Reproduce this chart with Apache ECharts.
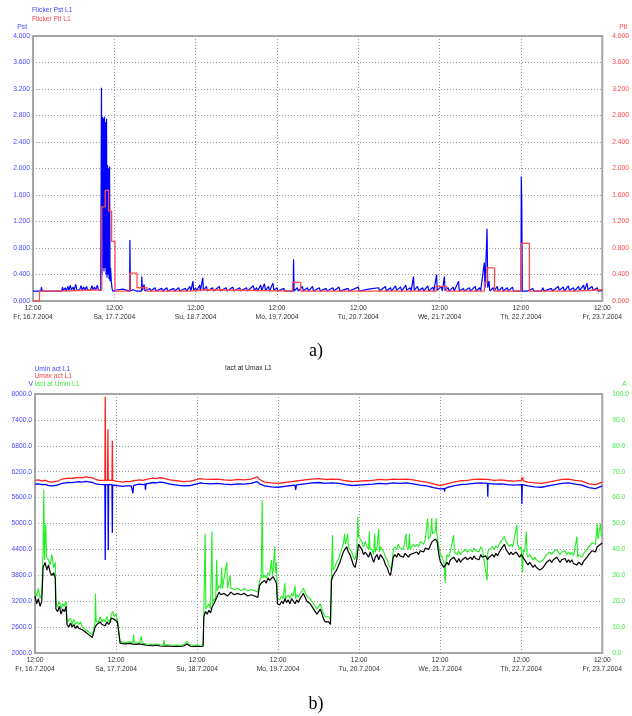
<!DOCTYPE html>
<html>
<head>
<meta charset="utf-8">
<script src="https://cdn.jsdelivr.net/npm/echarts@6/dist/echarts.min.js"></script>
<style>
html,body{margin:0;padding:0;background:#fff;}
#chart{width:632px;height:716px;}
</style>
</head>
<body>
<div id="chart"></div>
<script>
// ---- Tick labels (x: hours from Fri 16.7.2004 12:00, one tick per day) ----
const timeLabel = '12:00';
const dayLabels = ['Fr, 16.7.2004','Sa, 17.7.2004','Su, 18.7.2004','Mo, 19.7.2004','Tu, 20.7.2004','We, 21.7.2004','Th, 22.7.2004','Fr, 23.7.2004'];

// ---- Chart a): flicker, [hour, value] ----
const pstL1 = [[0,0.15],[2.3,0.15],[2.5,0.21],[2.7,0.15],[8.5,0.15],[8.7,0.21],[9,0.16],[9.5,0.2],[9.8,0.15],[10.3,0.22],[10.6,0.16],[11,0.24],[11.3,0.17],[11.8,0.21],[12.1,0.16],[12.6,0.25],[12.9,0.17],[13.4,0.2],[13.7,0.16],[14.2,0.23],[14.5,0.17],[15,0.21],[15.3,0.16],[15.8,0.22],[16.1,0.17],[16.6,0.2],[16.9,0.16],[17.4,0.23],[17.7,0.17],[18.2,0.21],[18.5,0.16],[19,0.24],[19.3,0.17],[19.8,0.2],[20,0.16],
[20.2,3.22],[20.35,0.4],[20.5,2.78],[20.65,0.5],[20.8,2.76],[20.95,0.45],[21.1,2.78],[21.25,0.5],[21.4,2.7],[21.55,0.4],[21.7,2.75],[21.85,0.35],[22.0,2.05],[22.15,0.4],[22.3,2.0],[22.45,0.33],[22.6,2.03],[22.75,0.3],[22.9,0.5],[23.1,0.3],[23.3,0.2],[23.5,0.15],
[24,0.15],[25,0.17],[25.3,0.15],[26.5,0.18],[27,0.15],[28.5,0.15],[28.6,0.92],[28.75,0.15],[29.5,0.17],[30.5,0.15],[32,0.15],[32.1,0.37],[32.3,0.16],[32.8,0.25],[33,0.15],[34.5,0.19],[34.8,0.15],[36,0.2],[36.3,0.15],[38,0.19],[38.3,0.15],[39.5,0.2],[39.8,0.15],[41.5,0.19],[41.8,0.15],[43,0.2],[43.3,0.15],[45,0.19],[45.3,0.15],[46.3,0.22],[46.6,0.15],[47.2,0.3],[47.4,0.16],[48,0.2],[48.3,0.15],[49.2,0.24],[49.4,0.15],[50.1,0.35],[50.3,0.16],[51.2,0.22],[51.5,0.15],[53,0.2],[53.3,0.15],[55,0.22],[55.3,0.15],[57,0.2],[57.3,0.15],[59,0.21],[59.3,0.15],[61,0.2],[61.3,0.15],[63,0.2],[63.3,0.15],[65,0.23],[65.3,0.16],[66,0.2],[66.3,0.15],[67.2,0.24],[67.5,0.16],[68.3,0.26],[68.6,0.16],[69.5,0.22],[69.8,0.15],[70.8,0.27],[71.1,0.16],[72,0.2],[72.3,0.15],[74,0.19],[74.3,0.15],[76.8,0.15],[76.9,0.63],[77.05,0.15],[78,0.2],[78.3,0.15],[79.5,0.22],[79.8,0.15],[81,0.2],[81.3,0.15],[82.5,0.22],[82.8,0.15],[84.5,0.2],[84.8,0.15],[86.5,0.19],[86.8,0.15],[88.5,0.2],[88.8,0.15],[90.3,0.21],[90.6,0.15],[93,0.19],[93.3,0.15],[96,0.21],[96.3,0.15],[99,0.18],[99.3,0.15],[102,0.2],[102.3,0.15],[104,0.22],[104.3,0.15],[105.5,0.2],[105.8,0.15],[107,0.23],[107.3,0.16],[108.5,0.21],[108.8,0.15],[110,0.24],[110.3,0.16],[111.3,0.2],[111.6,0.15],[112.3,0.37],[112.5,0.16],[113.5,0.22],[113.8,0.15],[115,0.2],[115.3,0.15],[116.5,0.23],[116.8,0.15],[118,0.21],[118.3,0.15],[119.1,0.4],[119.3,0.16],[120.5,0.22],[120.8,0.15],[121.4,0.37],[121.6,0.16],[122.5,0.2],[122.8,0.15],[124,0.21],[124.3,0.15],[125.6,0.3],[125.8,0.15],[127,0.19],[127.3,0.15],[128.8,0.2],[129.1,0.15],[130.5,0.22],[130.8,0.15],[131.8,0.2],[132.1,0.15],[133.2,0.58],[133.4,0.2],[133.8,0.2],[134,1.09],[134.2,0.2],[134.6,0.3],[134.8,0.15],[135.8,0.2],[136.1,0.15],[137,0.22],[137.3,0.15],[138.5,0.21],[138.8,0.15],[140,0.2],[140.3,0.15],[141.5,0.21],[141.8,0.15],[144,0.15],[144.1,1.88],[144.25,1.5],[144.4,0.15],[146,0.15],[147.5,0.19],[147.8,0.15],[150,0.15],[150.5,0.2],[150.8,0.15],[153,0.19],[153.3,0.15],[155,0.22],[155.3,0.16],[156.5,0.21],[156.8,0.15],[158,0.23],[158.3,0.16],[159.5,0.2],[159.8,0.15],[161,0.22],[161.3,0.16],[162.5,0.24],[162.8,0.16],[163.5,0.27],[163.8,0.17],[165,0.22],[165.3,0.16],[166.5,0.2],[166.8,0.15],[168,0.16]];

const pltL1 = [[0,0],[1.9,0.15],[8,0.17],[20.3,1.42],[21.3,1.67],[22.3,1.36],[23.2,0.9],[24.2,0.15],[28.6,0.42],[30.7,0.2],[33.6,0.15],[46,0.17],[51,0.15],[76.6,0.28],[79,0.15],[119,0.22],[122,0.15],[133.2,0.28],[134,0.5],[136.2,0.15],[144.1,0.87],[146.5,0.15],[160,0.17],[168,0.17]];

// ---- Chart b): voltages [hour, V] ----
const uminL1 = [[0,5910],[1,5920],[2,5900],[3,5905],[4,5880],[5,5870],[6,5880],[7,5900],[8,5930],[9,5940],[10,5950],[11,5945],[12,5960],[13,5970],[14,5960],[15,5975],[16,5965],[17,5950],[18,5920],[19,5905],[20,5900],[20.7,5900],[20.8,4155],[20.9,5900],[21.6,5900],[21.7,4387],[21.8,5900],[22.8,5900],[22.9,4787],[23,5890],[24,5880],[25,5870],[26,5860],[27,5870],[28.5,5870],[29,5700],[29.2,5880],[30,5900],[31,5910],[32,5900],[32.6,5910],[32.7,5780],[32.9,5920],[35,5950],[36,5940],[37,5960],[38,5950],[39,5930],[40,5910],[42,5890],[44,5870],[46,5880],[47,5900],[48,5920],[49,5940],[50,5930],[52,5920],[54,5930],[56,5910],[58,5900],[60,5920],[62,5910],[64,5930],[65.8,5970],[66.5,5920],[68,5870],[70,5850],[72,5840],[74,5860],[76,5880],[77,5890],[77.2,5776],[77.4,5890],[78,5900],[80,5920],[82,5940],[84,5950],[86,5930],[88,5940],[90,5930],[92,5900],[94,5880],[96,5890],[98,5900],[100,5910],[102,5930],[104,5920],[106,5940],[108,5930],[110,5940],[112,5920],[114,5890],[116,5870],[118,5830],[118.8,5820],[118.9,5780],[119,5820],[120,5800],[121.2,5810],[121.3,5737],[121.4,5810],[122,5830],[124,5870],[126,5900],[128,5910],[130,5930],[132,5940],[134,5930],[134.1,5621],[134.2,5930],[136,5910],[138,5920],[140,5900],[142,5890],[144.1,5900],[144.2,5452],[144.3,5900],[146,5870],[148,5850],[150,5840],[152,5870],[154,5900],[156,5930],[158,5940],[160,5910],[162,5890],[164,5830],[166,5810],[168,5870]];

const umaxL1 = [[0,6000],[1,6010],[2,5990],[3,6000],[4,5970],[5,5960],[6,5975],[7,5990],[8,6030],[9,6040],[10,6050],[11,6045],[12,6060],[13,6070],[14,6060],[15,6080],[16,6070],[17,6060],[18,6020],[19,6000],[20,6000],[20.7,6000],[20.8,7937],[20.9,6000],[21.5,6000],[21.6,7182],[21.7,6000],[22.8,6000],[22.9,6919],[23,6000],[24,5980],[25,5970],[26,5960],[27,5975],[28,5970],[29,5990],[30,6000],[31,6010],[32,6000],[33,6020],[34,6040],[35,6050],[36,6040],[37,6060],[38,6050],[39,6030],[40,6010],[42,5990],[44,5970],[46,5980],[47,6000],[48,6020],[49,6040],[50,6030],[52,6020],[54,6030],[56,6010],[58,6000],[60,6020],[62,6010],[64,6030],[65.8,6080],[66.5,6020],[68,5960],[70,5940],[72,5930],[74,5950],[76,5970],[78,5990],[80,6010],[82,6030],[84,6040],[86,6020],[88,6030],[90,6020],[92,5990],[94,5970],[96,5980],[98,5990],[100,6000],[102,6020],[104,6010],[106,6030],[108,6020],[110,6030],[112,6010],[114,5980],[116,5960],[118,5920],[120,5880],[121,5900],[122,5920],[124,5960],[126,5990],[128,6000],[130,6020],[132,6030],[134,6020],[136,6000],[138,6010],[140,5990],[142,5980],[144,6000],[144.4,6080],[144.6,5990],[146,5960],[148,5940],[150,5930],[152,5960],[154,5990],[156,6020],[158,6030],[160,6000],[162,5980],[164,5920],[166,5900],[168,5960]];

// ---- Chart b): currents [hour, A] ----
const iactUminL1 = [[0,24],[0.5,22],[1,25],[1.5,21],[2,23],[2.4,40],[2.6,63],[2.8,36],[3.2,50],[3.4,37],[4,36],[4.5,34],[5,38],[5.5,33],[6,35],[6.2,19],[6.7,18],[7.2,20],[7.7,17],[8.2,19],[8.7,18],[9.2,20],[9.5,12],[10,12],[10.5,13.5],[11,11],[11.5,13],[12,11],[12.5,12],[13,11],[13.5,12],[14,10],[14.5,10],[15,9],[15.5,9],[16,8],[16.5,7.5],[17,7],[17.5,6.5],[17.8,12],[17.9,23],[18.1,12],[18.8,12],[19.3,14],[19.8,12],[20.3,13],[20.8,12],[21.3,14],[21.8,12],[22.3,13],[22.6,15],[23,16],[23.5,14],[24,15],[24.4,13],[24.8,9],[25.2,4.5],[26,4.2],[27,4],[28,4.3],[29,4],[29.2,7],[29.4,4],[30,3.8],[31,4],[31.5,6.5],[31.7,3.8],[32,3.7],[33,3.5],[34,3.4],[35,3.3],[36,3.5],[37,3.2],[38,3.1],[38.2,5],[38.4,3.1],[39,3.2],[40,3.1],[41,3],[42,3.1],[43,3],[44,3.2],[45,4.5],[45.5,3.3],[46,3.1],[47,3],[48,3.1],[49,3],[49.8,3.1],[50,16],[50.4,46],[50.6,17],[51,17],[51.5,19],[52,17],[52.4,47],[52.6,19],[53,21],[53.5,20],[53.8,36],[54,24],[54.5,26],[55,25],[55.3,33],[55.5,25],[56,25],[56.8,35],[57,25],[57.8,30],[58,25],[59,24.5],[60,25],[61,24],[62,25],[63,24],[64,24.5],[65,24],[66,23.5],[66.5,28],[67,29],[67.3,59],[67.5,29],[68,30],[68.5,29],[69,31],[69.5,30],[70,36],[70.3,30],[70.5,32],[71,41],[71.2,31],[71.5,35],[71.8,21],[72.5,20.5],[73,22],[73.5,21],[74,27],[74.2,21],[74.5,21.5],[75,22.5],[75.5,21],[76,23],[76.5,22],[77,26],[77.2,21],[77.5,22.5],[78,21.5],[78.5,23],[79,24],[79.5,25],[80,23.5],[80.5,22],[81,22.5],[81.5,21],[82,20],[82.5,19.5],[83,18],[83.5,17],[84,18],[84.5,19],[85,17],[85.5,15],[86,14],[86.5,13.5],[87,14],[87.5,13],[87.8,30],[88.1,45.6],[88.3,32],[88.8,33],[89.3,35],[89.8,36],[90.3,38],[90.8,40],[91.3,42],[91.7,46],[91.9,42],[92.3,44],[92.6,46],[92.8,41],[93.3,41],[93.8,39],[94.3,37],[94.8,36],[95.3,40],[95.6,52.6],[95.8,45],[96.3,44],[96.8,43],[97.3,41],[97.8,43],[98.3,41],[98.8,40],[99,47],[99.2,40],[99.8,40],[100.3,38],[100.6,46],[100.8,39],[101.3,41],[101.8,48],[102,39],[102.3,41],[102.8,40],[103.3,39],[103.8,37],[104.3,36],[104.8,34],[105.3,33],[105.6,32],[106.1,40],[106.6,41],[107.1,40],[107.6,42],[108.1,40.5],[108.6,41],[109.1,40],[109.9,46],[110.1,41],[110.6,40],[110.9,46],[111.1,40],[111.6,41],[112.1,42],[112.6,41],[113.1,42],[113.6,41],[114.1,43],[114.6,43],[115.1,42],[115.6,44],[116.1,44],[116.3,52],[116.5,44],[117.1,45],[117.5,52],[117.7,46],[118.1,46],[118.6,47],[118.8,52],[119,46],[119.6,41],[120.1,38],[120.6,37],[121.1,35],[121.5,27],[121.7,35],[122,38],[122.5,37],[123,39],[123.5,38.5],[124,45.5],[124.2,39],[124.5,39],[125,38],[125.5,39.5],[126,38],[126.5,39],[127,38.5],[127.5,40],[128,39],[128.5,39.5],[129,40],[129.5,39],[130,40.5],[130.5,39.5],[131,40],[131.5,39],[132,41],[132.5,40],[133,39.5],[133.9,28],[134.1,39],[134.5,40],[135,39.5],[135.5,41],[136,40],[136.5,41.5],[137,40.5],[137.5,42],[138,43],[138.5,44],[139,45],[139.5,43],[140,42],[140.5,41],[141,42],[141.5,41],[142,40.5],[142.7,49.5],[142.9,42],[143.5,40],[144,41],[144.4,31],[144.6,40],[145,39],[145.5,47],[145.7,38],[146,37],[146.5,38],[147,37],[147.5,36],[148,37],[148.5,36],[149,35.5],[149.5,35],[150,35],[150.5,36],[151,37],[151.5,38],[152,37.5],[152.5,39],[153,38],[153.5,39],[154,38.5],[154.5,40],[155,39],[155.5,38],[156,39],[156.5,38.5],[157,39.5],[157.5,38],[158,39],[158.5,38],[159,39],[159.5,37.5],[160,38],[160.5,45],[160.7,37],[161,38],[161.5,37.5],[162,37],[162.5,38.5],[163,39],[163.5,40],[164,41],[164.5,41.5],[165,42.5],[165.5,43],[166,42],[166.5,50],[166.7,44],[167,43.5],[167.5,50],[167.7,45],[168,45.5]];

const iactUmaxL1 = [[0,22],[0.5,19],[1,21],[1.5,18],[2,20],[2.4,33],[3,35],[3.5,32],[4,34],[4.5,31],[5,30],[5.5,31],[6,29],[6.2,17],[6.7,16],[7.2,18],[7.7,15],[8.2,17],[8.7,16],[9.2,18],[9.5,11],[10,10],[10.5,11.5],[11,10],[11.5,11],[12,9.5],[12.5,10.5],[13,9.5],[13.5,10],[14,9],[14.5,8.5],[15,8],[15.5,7.5],[16,7],[16.5,6.5],[17,6],[17.5,5.8],[17.8,10],[18.3,11],[18.8,10.5],[19.3,12],[19.8,11],[20.3,11.5],[20.8,10.5],[21.3,12],[21.8,11],[22.3,12],[22.6,13.5],[23,14],[23.5,13],[24,13.5],[24.4,12],[24.8,8],[25.2,3.8],[26,3.6],[27,3.5],[28,3.7],[29,3.4],[30,3.3],[31,3.5],[32,3.2],[33,3],[34,2.9],[35,2.8],[36,3],[37,2.7],[38,2.6],[39,2.7],[40,2.6],[41,2.5],[42,2.6],[43,2.5],[44,2.7],[45,3.5],[45.5,2.8],[46,2.6],[47,2.5],[48,2.6],[49,2.5],[49.8,2.6],[50,14],[50.5,16],[51,15],[51.5,16.5],[52,15.5],[52.5,18],[53,19],[53.5,18.5],[54,22],[54.5,23.5],[55,22.5],[56,23],[57,22],[58,23.5],[59,22.5],[60,23],[61,22.5],[62,23],[63,22],[64,22.5],[65,22],[66,21.5],[66.5,26],[67,27],[67.5,26.5],[68,28],[68.5,27],[69,29],[69.5,28],[70,27.5],[70.5,29.5],[71,30],[71.5,27],[71.8,19],[72.5,18.5],[73,20],[73.5,19],[74,21],[74.5,19.5],[75,20.5],[75.5,19],[76,21],[76.5,20],[77,19],[77.5,20.5],[78,19.5],[78.5,21],[79,22],[79.5,23],[80,21.5],[80.5,20],[81,20.5],[81.5,19],[82,18],[82.5,17.5],[83,16],[83.5,15],[84,16],[84.5,17],[85,15],[85.5,13],[86,12],[86.5,11.5],[87,12],[87.5,11],[87.8,28],[88.3,30],[88.8,31],[89.3,32],[89.8,33.5],[90.3,35],[90.8,37],[91.3,39],[91.8,40],[92.3,41],[92.8,39],[93.3,38],[93.8,36],[94.3,34],[94.8,33],[95.3,36],[95.8,42],[96.3,41],[96.8,40],[97.3,38],[97.8,39],[98.3,38],[98.8,37],[99.3,39],[99.8,37],[100.3,35],[100.8,37],[101.3,38],[101.8,36],[102.3,38],[102.8,37],[103.3,36],[103.8,34],[104.3,33],[104.8,31],[105.3,30],[105.6,29.5],[106.1,37],[106.6,38],[107.1,37],[107.6,38.5],[108.1,37.5],[108.6,38],[109.1,37],[109.6,38.5],[110.1,38],[110.6,37],[111.1,38],[111.6,37.5],[112.1,38.5],[112.6,38],[113.1,39],[113.6,38],[114.1,39.5],[114.6,40],[115.1,39],[115.6,40.5],[116.1,41],[116.6,40],[117.1,41.5],[117.6,43],[118.1,42.5],[118.6,44],[119.1,43],[119.6,38],[120.1,35],[120.6,34],[121.1,33],[121.5,32.5],[122,35],[122.5,34],[123,36],[123.5,35.5],[124,37],[124.5,36],[125,35],[125.5,36.5],[126,35],[126.5,36],[127,35.5],[127.5,37],[128,36],[128.5,36.5],[129,37],[129.5,36],[130,37.5],[130.5,36.5],[131,37],[131.5,36],[132,38],[132.5,37],[133,36.5],[133.5,37.5],[134,36],[134.5,37],[135,36.5],[135.5,38],[136,37],[136.5,38.5],[137,37.5],[137.5,39],[138,40],[138.5,41],[139,42],[139.5,40],[140,39],[140.5,38],[141,39],[141.5,38],[142,37.5],[142.5,39],[143,38],[143.5,37],[144,38],[144.5,37],[145,36],[145.5,35],[146,34],[146.5,35],[147,34],[147.5,33],[148,34],[148.5,33],[149,32.5],[149.5,32],[150,32],[150.5,33],[151,34],[151.5,35],[152,34.5],[152.5,36],[153,35],[153.5,36],[154,35.5],[154.5,37],[155,36],[155.5,35],[156,36],[156.5,35.5],[157,36.5],[157.5,35],[158,36],[158.5,35],[159,36],[159.5,34.5],[160,35],[160.5,34],[161,35],[161.5,34.5],[162,34],[162.5,35.5],[163,36],[163.5,37],[164,38],[164.5,38.5],[165,39.5],[165.5,40],[166,39],[166.5,41],[167,40.5],[167.5,42],[168,42.5]];

// ---- styling constants ----
const FONT = "'Liberation Sans', Arial, sans-serif";
const BLUE = '#0000ff', RED = '#ff2020', RED_PLT = '#ff4a4a', GREEN = '#22ee22', BLACK = '#000000';
const BLUE_T = '#4646ff', RED_T = '#ff4646', GREEN_T = '#44ee44', GRAY_T = '#333333';
const FS = 6.7;

function xAxisFor(gridIndex) {
  return {
    type: 'value', gridIndex, min: 0, max: 168, interval: 24,
    axisLine: {show: false}, axisTick: {show: false},
    axisLabel: {
      fontFamily: FONT, fontSize: FS, color: GRAY_T, lineHeight: 9, margin: 3,
      showMinLabel: true, showMaxLabel: true, hideOverlap: false,
      formatter: v => timeLabel + '\n' + dayLabels[Math.round(v / 24)]
    },
    splitLine: {show: true, lineStyle: {color: '#9a9a9a', type: [1, 2], width: 1}}
  };
}
function yAxisFor(gridIndex, position, min, max, interval, digits, color, name, nameAlign, namePad, nameGap, margin) {
  return {
    type: 'value', gridIndex, position, min, max, interval,
    name, nameLocation: 'end', nameGap,
    nameTextStyle: {fontFamily: FONT, fontSize: FS, color, align: nameAlign, padding: namePad},
    axisLine: {show: false}, axisTick: {show: false},
    axisLabel: {fontFamily: FONT, fontSize: FS, color, margin, formatter: v => v.toFixed(digits)},
    splitLine: {show: position === 'left', lineStyle: {color: '#9a9a9a', type: [1, 2], width: 1}}
  };
}

const chart = echarts.init(document.getElementById('chart'), null, {renderer: 'canvas'});
chart.setOption({
  animation: false,
  backgroundColor: '#ffffff',
  grid: [
    {left: 33, right: 29, top: 36, height: 265, show: true, borderColor: '#a8a8a8', borderWidth: 2, backgroundColor: 'transparent'},
    {left: 35, right: 29, top: 394, height: 259, show: true, borderColor: '#a8a8a8', borderWidth: 2, backgroundColor: 'transparent'}
  ],
  legend: [
    {orient: 'vertical', left: 27, top: 7, itemWidth: 0, itemHeight: 0, itemGap: 1.3, padding: 0,
     selectedMode: false, icon: 'rect',
     textStyle: {fontFamily: FONT, fontSize: FS, lineHeight: 7},
     data: [{name: 'Flicker Pst L1', textStyle: {color: BLUE_T}}, {name: 'Flicker Plt L1', textStyle: {color: RED_T}}]},
    {orient: 'vertical', left: 29.5, top: 365.5, itemWidth: 0, itemHeight: 0, itemGap: 0.5, padding: 0,
     selectedMode: false, icon: 'rect',
     textStyle: {fontFamily: FONT, fontSize: FS, lineHeight: 7},
     data: [{name: 'Umin act L1', textStyle: {color: BLUE_T}}, {name: 'Umax act L1', textStyle: {color: RED_T}}, {name: 'Iact at Umin L1', textStyle: {color: GREEN_T}}]},
    {orient: 'horizontal', left: 220, top: 364.5, itemWidth: 0, itemHeight: 0, padding: 0,
     selectedMode: false, icon: 'rect',
     textStyle: {fontFamily: FONT, fontSize: FS, lineHeight: 7},
     data: [{name: 'Iact at Umax L1', textStyle: {color: '#222222'}}]}
  ],
  xAxis: [xAxisFor(0), xAxisFor(1)],
  yAxis: [
    yAxisFor(0, 'left', 0, 4, 0.4, 3, BLUE_T, 'Pst', 'right', [0, 6, 0, 0], 5, 3),
    yAxisFor(0, 'right', 0, 4, 0.4, 3, RED_T, 'Plt', 'left', [0, 0, 0, 17], 5, 10),
    yAxisFor(1, 'left', 2000, 8000, 600, 1, BLUE_T, 'V', 'right', [0, 2, 0, 0], 6, 3),
    yAxisFor(1, 'right', 0, 100, 10, 1, GREEN_T, 'A', 'left', [0, 0, 0, 20], 6, 10)
  ],
  series: [
    {name: 'Flicker Pst L1', type: 'line', xAxisIndex: 0, yAxisIndex: 0, data: pstL1, showSymbol: false,
     lineStyle: {color: BLUE, width: 1.2}, itemStyle: {color: BLUE}},
    {name: 'Flicker Plt L1', type: 'line', xAxisIndex: 0, yAxisIndex: 1, data: pltL1, step: 'end', showSymbol: false,
     lineStyle: {color: RED_PLT, width: 1.3}, itemStyle: {color: RED_PLT}},
    {name: 'Umin act L1', type: 'line', xAxisIndex: 1, yAxisIndex: 2, data: uminL1, showSymbol: false,
     lineStyle: {color: BLUE, width: 1.3}, itemStyle: {color: BLUE}},
    {name: 'Umax act L1', type: 'line', xAxisIndex: 1, yAxisIndex: 2, data: umaxL1, showSymbol: false,
     lineStyle: {color: RED, width: 1.3}, itemStyle: {color: RED}},
    {name: 'Iact at Umin L1', type: 'line', xAxisIndex: 1, yAxisIndex: 3, data: iactUminL1, showSymbol: false,
     lineStyle: {color: GREEN, width: 1.1}, itemStyle: {color: GREEN}},
    {name: 'Iact at Umax L1', type: 'line', xAxisIndex: 1, yAxisIndex: 3, data: iactUmaxL1, showSymbol: false,
     lineStyle: {color: BLACK, width: 1.2}, itemStyle: {color: BLACK}}
  ],
  graphic: [
    {type: 'text', left: 'center', top: 342, style: {text: 'a)', fontFamily: "'Liberation Serif', 'Times New Roman', serif", fontSize: 18, fill: '#000'}},
    {type: 'text', left: 'center', top: 695, style: {text: 'b)', fontFamily: "'Liberation Serif', 'Times New Roman', serif", fontSize: 18, fill: '#000'}}
  ]
});
</script>
</body>
</html>
